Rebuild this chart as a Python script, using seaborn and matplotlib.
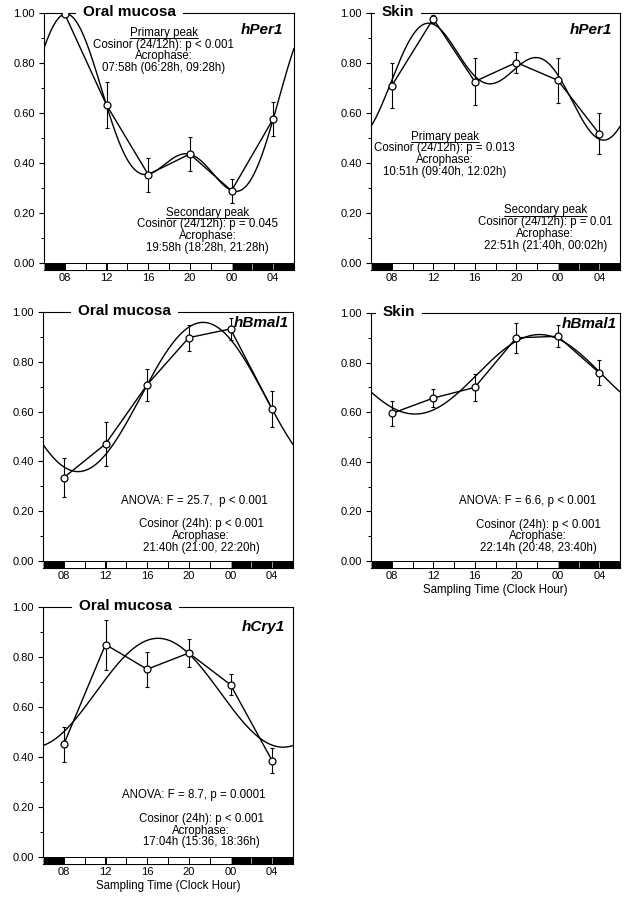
import numpy as np
import pandas as pd
import matplotlib
matplotlib.use('Agg')
import matplotlib.pyplot as plt
from matplotlib.lines import Line2D
from matplotlib.ticker import MultipleLocator
import seaborn as sns

# sampling times (clock hour, 00 and 04 shown as 24 and 28)
HOURS = [8, 12, 16, 20, 24, 28]
HOUR_LABELS = ['08', '12', '16', '20', '00', '04']

# normalized expression, mean and SEM
oral_per1_mean = [0.995, 0.632, 0.354, 0.436, 0.289, 0.576]
oral_per1_sem = [0.0, 0.093, 0.068, 0.068, 0.048, 0.067]
skin_per1_mean = [0.709, 0.977, 0.726, 0.802, 0.731, 0.517]
skin_per1_sem = [0.090, 0.015, 0.094, 0.041, 0.089, 0.082]
oral_bmal1_mean = [0.335, 0.470, 0.708, 0.897, 0.932, 0.610]
oral_bmal1_sem = [0.079, 0.089, 0.064, 0.052, 0.045, 0.073]
skin_bmal1_mean = [0.595, 0.657, 0.700, 0.900, 0.906, 0.759]
skin_bmal1_sem = [0.052, 0.036, 0.056, 0.060, 0.045, 0.051]
oral_cry1_mean = [0.451, 0.850, 0.751, 0.816, 0.689, 0.385]
oral_cry1_sem = [0.070, 0.100, 0.070, 0.055, 0.042, 0.050]

# light/dark schedule
LIGHTS_ON = 8
LIGHTS_OFF = 24
X_MIN, X_MAX = 6, 30
BAR_H = 0.028
LINE_STEP = 0.047

FS_NOTE = 8.3


def cosinor_fit(t, y, periods):
    """Least-squares cosinor (one or more periods) on the means"""
    t = np.asarray(t, float)
    def design(x):
        cols = [np.ones_like(x)]
        for p in periods:
            cols += [np.cos(2 * np.pi * x / p), np.sin(2 * np.pi * x / p)]
        return np.column_stack(cols)
    coef, *_ = np.linalg.lstsq(design(t), np.asarray(y, float), rcond=None)
    return lambda x: design(np.asarray(x, float)) @ coef


panels = [
    dict(rect=(44, 13, 294, 270), mean=oral_per1_mean, sem=oral_per1_sem, periods=(24, 12),
         tissue='Oral mucosa', tissue_x=0.156, gene='hPer1', gene_xy=(29.0, 0.93),
         notes=[(17.5, 0.92, ['Primary peak', 'Cosinor (24/12h): p < 0.001', 'Acrophase:',
                              '07:58h (06:28h, 09:28h)'], True),
                (21.7, 0.201, ['Secondary peak', 'Cosinor (24/12h): p = 0.045', 'Acrophase:',
                               '19:58h (18:28h, 21:28h)'], True)],
         xlabel=False),
    dict(rect=(371, 13, 620, 270), mean=skin_per1_mean, sem=skin_per1_sem, periods=(24, 12),
         tissue='Skin', tissue_x=0.044, gene='hPer1', gene_xy=(29.2, 0.93),
         notes=[(13.1, 0.505, ['Primary peak', 'Cosinor (24/12h): p = 0.013', 'Acrophase:',
                               '10:51h (09:40h, 12:02h)'], True),
                (22.8, 0.21, ['Secondary peak', 'Cosinor (24/12h): p = 0.01', 'Acrophase:',
                              '22:51h (21:40h, 00:02h)'], True)],
         xlabel=False),
    dict(rect=(43, 312, 293, 568), mean=oral_bmal1_mean, sem=oral_bmal1_sem, periods=(24,),
         tissue='Oral mucosa', tissue_x=0.14, gene='hBmal1', gene_xy=(29.6, 0.955),
         notes=[(20.5, 0.242, ['ANOVA: F = 25.7,  p < 0.001'], False),
                (21.2, 0.147, ['Cosinor (24h): p < 0.001', 'Acrophase:',
                               '21:40h (21:00, 22:20h)'], False)],
         xlabel=False),
    dict(rect=(371, 313, 620, 568), mean=skin_bmal1_mean, sem=skin_bmal1_sem, periods=(24,),
         tissue='Skin', tissue_x=0.048, gene='hBmal1', gene_xy=(29.7, 0.955),
         notes=[(21.1, 0.242, ['ANOVA: F = 6.6, p < 0.001'], False),
                (22.1, 0.147, ['Cosinor (24h): p < 0.001', 'Acrophase:',
                               '22:14h (20:48, 23:40h)'], False)],
         xlabel=True),
    dict(rect=(43, 607, 293, 864), mean=oral_cry1_mean, sem=oral_cry1_sem, periods=(24,),
         tissue='Oral mucosa', tissue_x=0.144, gene='hCry1', gene_xy=(29.25, 0.92),
         notes=[(20.5, 0.248, ['ANOVA: F = 8.7, p = 0.0001'], False),
                (21.2, 0.152, ['Cosinor (24h): p < 0.001', 'Acrophase:',
                               '17:04h (15:36, 18:36h)'], False)],
         xlabel=True),
]

sns.set_theme(style='ticks')
plt.rcParams['font.family'] = ['Liberation Sans', 'DejaVu Sans']
plt.rcParams['text.color'] = 'black'
plt.rcParams['axes.labelcolor'] = 'black'
plt.rcParams['xtick.color'] = 'black'
plt.rcParams['ytick.color'] = 'black'

W, H = 625, 900
fig = plt.figure(figsize=(W / 100, H / 100), dpi=100)

underline_me = []

for p in panels:
    x0, y0, x1, y1 = p['rect']
    ax = fig.add_axes([x0 / W, 1 - y1 / H, (x1 - x0) / W, (y1 - y0) / H])

    df = pd.DataFrame({'hour': HOURS, 'value': p['mean']})
    grid = np.linspace(X_MIN, X_MAX, 400)
    fit = cosinor_fit(HOURS, p['mean'], p['periods'])
    curve = pd.DataFrame({'hour': grid, 'value': fit(grid)})

    sns.lineplot(data=curve, x='hour', y='value', ax=ax, color='black', lw=1.0, zorder=4)
    ax.errorbar(HOURS, p['mean'], yerr=p['sem'], fmt='none', ecolor='black',
                elinewidth=0.8, capsize=1.6, capthick=0.8, zorder=4)
    sns.lineplot(data=df, x='hour', y='value', ax=ax, color='black', lw=1.0,
                 marker='o', markersize=5, markerfacecolor='white',
                 markeredgecolor='black', markeredgewidth=0.9, zorder=5)

    # light/dark bar under the axis
    starts = np.arange(X_MIN, X_MAX, 2)
    light = (starts >= LIGHTS_ON) & (starts < LIGHTS_OFF)
    ax.bar(starts, -BAR_H, width=2, bottom=0, align='edge',
           color=np.where(light, 'white', 'black'),
           edgecolor=np.where(light, 'black', '0.6'), linewidth=0.7, zorder=3)
    ax.axhline(0, color='black', lw=0.7, zorder=3)

    ax.set_xlim(X_MIN, X_MAX)
    ax.set_ylim(-BAR_H, 1.0)
    ax.set_xticks(HOURS)
    ax.set_xticklabels(HOUR_LABELS)
    ax.set_yticks(np.arange(0, 1.01, 0.2))
    ax.set_yticklabels([f'{v:.2f}' for v in np.arange(0, 1.01, 0.2)])
    ax.yaxis.set_minor_locator(MultipleLocator(0.1))
    ax.tick_params(axis='x', length=0, pad=2.5, labelsize=8, colors='black')
    ax.tick_params(axis='y', which='major', length=3.5, width=0.8, pad=3, labelsize=8,
                   colors='black')
    ax.tick_params(axis='y', which='minor', length=2, width=0.7, colors='black')
    for s in ax.spines.values():
        s.set_visible(True)
        s.set_linewidth(0.8)
        s.set_color('black')
    ax.set_ylabel('')
    if p['xlabel']:
        ax.set_xlabel('Sampling Time (Clock Hour)', fontsize=FS_NOTE, labelpad=1.5,
                      color='black')
    else:
        ax.set_xlabel('')

    ax.text(p['tissue_x'], 1.004, p['tissue'], transform=ax.transAxes, ha='left', va='center',
            fontsize=11, fontweight='bold', color='black', zorder=3.5,
            bbox=dict(boxstyle='square,pad=0.45', fc='white', ec='none'))
    ax.text(p['gene_xy'][0], p['gene_xy'][1], p['gene'], ha='right', va='center',
            fontsize=11, fontweight='bold', fontstyle='italic', color='black', zorder=6)

    for nx, ny, lines, underline in p['notes']:
        for i, line in enumerate(lines):
            t = ax.text(nx, ny - i * LINE_STEP, line, ha='center', va='center',
                        fontsize=FS_NOTE, color='black', zorder=6)
            if underline and i == 0:
                underline_me.append(t)

# underline the peak headings
fig.canvas.draw()
renderer = fig.canvas.get_renderer()
for t in underline_me:
    bb = t.get_window_extent(renderer)
    yy = (bb.y0 + 1.0) / fig.bbox.height
    fig.add_artist(Line2D([bb.x0 / fig.bbox.width, bb.x1 / fig.bbox.width], [yy, yy],
                          transform=fig.transFigure, color='black', lw=0.7))

fig.savefig('out.png', dpi=100)
